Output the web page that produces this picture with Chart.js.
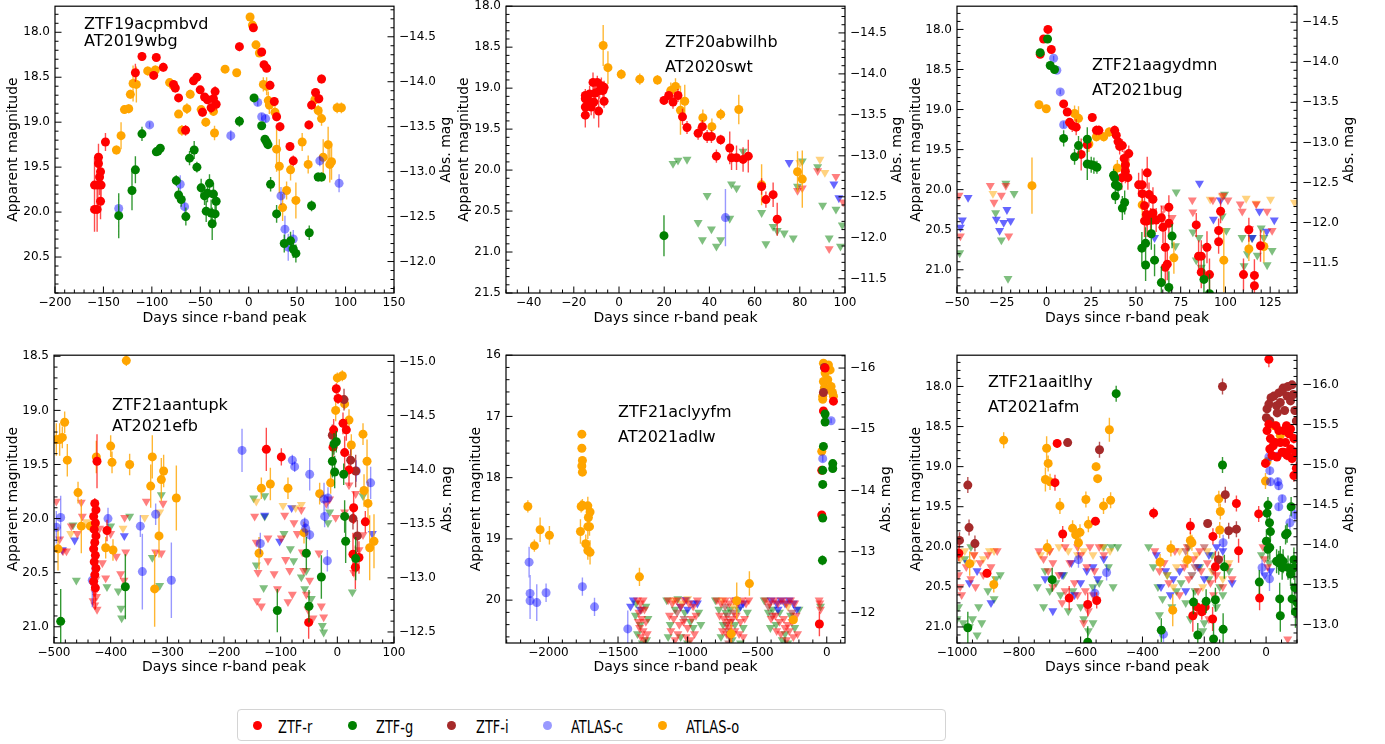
<!DOCTYPE html>
<html>
<head>
<meta charset="utf-8">
<script src="https://cdn.jsdelivr.net/npm/chart.js@4.4.0/dist/chart.umd.min.js"></script>
<style>
body{margin:0;background:#fff;width:1385px;height:744px;position:relative;overflow:hidden;font-family:"DejaVu Sans",sans-serif}
canvas{position:absolute}
#legend{position:absolute;left:237px;top:709px;width:709px;height:32px;border:1px solid #d4d4d4;border-radius:4px;box-sizing:border-box}
.dot{position:absolute;width:9px;height:9px;border-radius:50%;top:11px}
.lab{position:absolute;top:6px;font-size:18px;line-height:22px;transform:scaleX(0.72);transform-origin:left center;white-space:nowrap}
</style>
</head>
<body>
<canvas id="c1"></canvas><canvas id="c2"></canvas><canvas id="c3"></canvas>
<canvas id="c4"></canvas><canvas id="c5"></canvas><canvas id="c6"></canvas>
<div id="legend"></div>
<script>
// legend entries
const bandNames = ['ZTF-r', 'ZTF-g', 'ZTF-i', 'ATLAS-c', 'ATLAS-o'];

// ---- panel 1 : ZTF19acpmbvd (detections: [day, mag, err])
const p1_r = [[-159.2,19.97,0.25],[-156.5,19.97,0.25],[-159.2,19.70,0.3],[-155.8,19.70,0.3],[-155.1,19.39,0.15],[-155.1,19.46,0.2],[-154.0,19.61,0.2],[-153.0,19.55,0.15],[-153.0,19.88,0.2],[-152.4,19.70,0.15],[-147.9,19.22,0.1],[-117.0,18.45,0.1],[-110.2,18.27,0.05],[-98.1,18.48,0.04],[-95.4,18.28,0.04],[-88.2,18.39,0.05],[-77.6,18.58,0.04],[-75.8,18.62,0.05],[-72.4,18.73,0.04],[-65.2,19.09,0.06],[-57.0,18.54,0.04],[-53.6,18.50,0.04],[-50.1,18.64,0.04],[-47.7,18.89,0.05],[-45.6,18.72,0.04],[-42.6,18.75,0.04],[-38.8,18.84,0.06],[-36.4,18.74,0.06],[-34.7,18.66,0.06],[-33.6,18.80,0.07],[-9.6,18.16,0.05],[4.8,17.95,0.04],[13.4,18.22,0.04],[15.8,18.36,0.04],[18.5,18.40,0.04],[22.0,18.59,0.05],[26.4,18.77,0.05],[28.8,18.94,0.05],[32.3,19.05,0.05],[42.6,19.27,0.05],[46.0,19.43,0.06],[62.1,19.03,0.05],[64.9,18.81,0.05],[69.0,18.67,0.04],[72.4,18.74,0.05],[75.2,18.52,0.05]];
const p1_g = [[-134.2,20.04,0.25],[-120.5,19.76,0.22],[-117.0,19.53,0.15],[-110.2,19.13,0.08],[-95.4,19.33,0.04],[-93.7,19.32,0.04],[-91.3,19.29,0.04],[-74.8,19.65,0.06],[-72.4,19.81,0.08],[-69.7,19.86,0.08],[-64.9,20.05,0.1],[-61.1,19.40,0.08],[-56.3,19.31,0.1],[-53.5,19.50,0.06],[-49.1,19.73,0.1],[-45.6,19.82,0.1],[-43.9,19.99,0.12],[-42.6,19.79,0.1],[-40.5,19.68,0.1],[-38.8,20.01,0.15],[-37.7,20.13,0.18],[-36.4,19.80,0.12],[-34.7,20.02,0.1],[-33.6,19.88,0.1],[-9.6,18.99,0.06],[5.5,18.73,0.03],[13.4,19.04,0.04],[16.8,19.19,0.04],[18.5,19.22,0.04],[19.9,19.25,0.04],[22.6,19.69,0.08],[28.8,20.02,0.1],[36.7,20.35,0.1],[43.2,20.32,0.1],[46.0,20.41,0.1],[48.7,20.46,0.1],[62.5,20.23,0.08],[64.9,19.93,0.06],[71.7,19.61,0.05],[75.2,19.61,0.05]];
const p1_c = [[-134.2,19.96,0.03],[-102.3,19.03,0.03],[-70.7,19.69,0.1],[-66.2,19.94,0.1],[-18.5,19.15,0.06],[9.3,18.78,0.04],[13.4,18.94,0.04],[17.5,18.96,0.04],[33.3,19.82,0.1],[37.4,20.19,0.15],[40.8,20.39,0.15],[46.0,20.30,0.1],[73.4,19.43,0.06],[93.3,19.68,0.1]];
const p1_o = [[-136.6,19.31,0.05],[-131.8,19.15,0.15],[-128.3,18.86,0.05],[-123.9,18.85,0.05],[-122.2,18.69,0.05],[-119.4,18.57,0.2],[-116.0,18.58,0.2],[-104.3,18.43,0.05],[-96.4,18.42,0.05],[-81.7,18.56,0.04],[-78.2,18.59,0.04],[-72.4,18.91,0.04],[-69.0,19.09,0.06],[-63.8,18.85,0.06],[-60.4,18.69,0.05],[-49.1,18.86,0.04],[-44.3,19.00,0.05],[-36.4,18.88,0.05],[-35.3,19.12,0.08],[-24.4,18.41,0.03],[-12.4,18.45,0.04],[1.4,17.83,0.03],[3.8,17.92,0.03],[7.5,18.14,0.03],[11.0,18.23,0.03],[15.1,18.58,0.08],[18.5,18.60,0.1],[20.2,18.76,0.1],[21.3,18.81,0.1],[27.1,18.89,0.08],[28.8,19.30,0.25],[31.6,19.49,0.3],[35.0,19.95,0.15],[39.1,19.76,0.1],[43.2,19.53,0.12],[48.7,19.87,0.2],[55.2,19.22,0.1],[61.4,19.47,0.1],[68.3,18.75,0.05],[71.7,18.87,0.06],[75.2,18.96,0.08],[76.9,19.39,0.2],[82.0,19.25,0.2],[83.7,19.47,0.2],[85.5,19.44,0.2],[91.3,18.84,0.06],[95.7,18.84,0.06]];

// ---- panel 2 : ZTF20abwilhb (limits: [day, mag])
const p2_r = [[-14.9,19.33,0.15],[-14.9,19.23,0.1],[-14.9,19.13,0.08],[-14.9,19.09,0.08],[-13.7,19.15,0.1],[-13.0,19.07,0.1],[-12.3,19.23,0.1],[-11.5,18.93,0.12],[-11.1,19.17,0.2],[-10.5,19.06,0.1],[-9.6,18.93,0.08],[-9.0,19.28,0.2],[-8.6,19.03,0.1],[-7.8,18.97,0.1],[-7.1,19.03,0.08],[-6.6,19.16,0.08],[-6.6,18.99,0.08],[19.9,19.15,0.05],[22.0,19.09,0.05],[23.9,19.17,0.08],[26.1,19.09,0.08],[28.1,19.35,0.1],[30.1,19.48,0.08],[35.0,19.55,0.08],[36.9,19.47,0.08],[39.0,19.59,0.08],[40.9,19.59,0.08],[43.1,19.83,0.08],[45.0,19.63,0.06],[49.0,19.73,0.2],[49.8,19.85,0.15],[52.0,19.85,0.15],[54.9,19.87,0.15],[57.2,19.83,0.2],[63.1,20.20,0.1],[65.0,20.36,0.1],[68.2,20.30,0.15],[70.0,20.60,0.2]];
const p2_g = [[19.9,20.80,0.25]];
const p2_c = [[47.1,20.58,0.35]];
const p2_o = [[-7.0,18.48,0.25],[-4.9,18.75,0.2],[1.0,18.83,0.06],[9.2,18.89,0.07],[17.0,18.90,0.06],[22.9,19.03,0.1],[25.0,18.98,0.1],[27.2,19.27,0.3],[29.1,19.16,0.2],[37.1,19.36,0.1],[41.1,19.47,0.1],[45.0,19.32,0.07],[53.0,19.26,0.18],[63.1,20.18,0.25],[79.0,20.02,0.25],[81.1,20.11,0.35]];
const p2_gLim = [[23.9,19.92],[26.1,19.88],[30.1,19.87],[35.0,20.64],[36.9,20.85],[39.0,20.31],[40.9,20.72],[43.1,20.93],[45.0,20.85],[49.0,20.59],[49.8,20.17],[52.0,20.22],[54.9,19.77],[63.1,20.52],[65.0,20.90],[68.2,20.69],[70.0,20.74],[73.1,20.77],[77.1,20.83],[79.0,20.20],[81.1,19.89],[87.9,19.96],[90.1,20.43],[93.0,20.83],[96.0,20.48],[98.0,20.93],[98.8,20.67]];
const p2_rLim = [[79.0,20.25],[81.1,20.22],[87.9,20.01],[93.0,20.96],[96.0,20.08],[99.2,20.39]];
const p2_cLim = [[75.3,19.91],[95.1,20.17],[97.3,20.34]];
const p2_oLim = [[88.9,19.87],[91.1,20.03],[80.0,19.91]];

// ---- panel 3 : ZTF21aagydmn
const p3_r = [[-3.5,18.31,0.03],[-1.6,18.12,0.03],[0.8,18.00,0.03],[2.7,18.25,0.03],[9.6,18.93,0.04],[11.6,19.03,0.04],[12.9,19.16,0.05],[14.4,19.20,0.08],[16.6,19.22,0.1],[19.4,19.56,0.2],[22.8,19.44,0.1],[25.6,19.10,0.05],[27.9,19.26,0.06],[29.3,19.26,0.06],[38.1,19.26,0.06],[39.0,19.32,0.08],[40.0,19.40,0.08],[40.9,19.46,0.1],[42.4,19.45,0.08],[43.4,19.61,0.1],[44.1,19.69,0.12],[46.0,19.55,0.1],[42.1,19.85,0.15],[44.1,19.77,0.15],[45.5,19.85,0.15],[51.5,19.94,0.15],[53.5,19.94,0.2],[53.5,20.05,0.2],[56.3,19.79,0.2],[54.8,20.20,0.2],[55.8,20.31,0.15],[57.3,20.06,0.15],[56.3,20.39,0.2],[59.5,20.12,0.15],[59.5,20.29,0.15],[54.8,20.39,0.2],[58.2,20.38,0.15],[61.3,20.38,0.15],[64.2,20.35,0.15],[65.1,20.47,0.2],[68.4,20.42,0.2],[68.4,20.22,0.15],[66.4,20.72,0.2],[66.4,20.97,0.2],[67.5,20.93,0.2],[83.7,20.44,0.15],[85.0,20.83,0.2],[86.5,20.83,0.2],[86.5,21.03,0.2],[89.7,20.72,0.2],[91.1,21.06,0.2],[96.2,20.51,0.15],[96.2,20.65,0.15],[97.3,20.27,0.15],[110.1,21.06,0.2],[113.1,20.50,0.15],[116.2,21.07,0.2],[116.2,21.20,0.2],[119.6,20.70,0.2]];
const p3_g = [[-3.5,18.29,0.03],[0.6,18.12,0.03],[2.1,18.45,0.03],[4.5,18.50,0.03],[9.6,19.36,0.1],[15.7,19.59,0.1],[17.9,19.45,0.12],[22.8,19.37,0.15],[22.8,19.68,0.2],[25.0,19.69,0.1],[26.5,19.70,0.1],[28.2,19.72,0.08],[37.5,19.82,0.08],[38.1,19.85,0.08],[38.5,19.94,0.1],[40.0,19.96,0.12],[38.5,20.08,0.1],[42.4,20.23,0.15],[43.7,20.16,0.15],[53.3,20.73,0.2],[55.4,20.67,0.2],[55.4,20.94,0.2],[58.6,20.55,0.2],[60.4,20.88,0.2],[64.2,21.16,0.2],[68.4,21.22,0.2],[70.2,20.58,0.15],[88.0,21.12,0.25],[91.1,21.30,0.25]];
const p3_c = [[4.0,18.36,0.03],[5.8,18.51,0.03],[7.7,18.78,0.03],[9.6,19.19,0.04]];
const p3_o = [[-8.1,19.95,0.35],[-4.2,18.94,0.05],[-0.1,18.99,0.05],[15.7,19.05,0.1],[17.9,19.11,0.15],[23.7,19.43,0.1],[27.9,19.34,0.06],[32.0,19.34,0.06],[35.0,19.28,0.06],[39.6,19.73,0.1],[44.1,19.68,0.1],[53.5,20.19,0.15],[71.2,20.85,0.2],[99.1,20.88,0.4],[113.1,20.74,0.15],[121.5,20.71,0.2]];
const p3_rLim = [[-48.9,20.07],[-48.1,20.58],[-31.4,19.95],[-29.3,20.16],[-25.2,20.07],[-22.7,19.95],[-21.1,20.58],[81.5,20.13],[81.8,20.28],[93.0,20.13],[98.6,20.07],[101.4,20.13],[108.3,20.18],[109.4,20.27],[113.5,20.49],[123.3,20.27],[126.1,20.51],[117.2,20.18],[66.0,20.23],[70.2,20.35]];
const p3_gLim = [[-48.5,20.79],[-28.4,20.29],[-25.2,20.63],[-22.7,19.92],[-18.1,20.05],[-21.5,21.11],[72.5,20.03],[72.1,20.70],[81.8,20.53],[85.2,20.60],[83.7,20.88],[86.5,20.97],[88.9,20.72],[98.2,20.33],[99.5,20.06],[100.5,20.51],[109.3,20.60],[110.4,20.95],[112.3,20.80],[114.8,20.60],[117.8,20.82],[120.0,20.48],[123.3,20.94],[126.1,20.76],[121.5,20.60]];
const p3_cLim = [[-48.1,20.47],[-43.8,20.10],[-47.0,20.38],[-28.0,20.37],[-26.2,20.51],[-23.9,20.41],[-22.1,20.25],[-20.0,20.39],[85.5,19.92],[93.3,20.37],[97.3,20.13],[115.0,20.60],[119.0,20.27],[123.1,20.52],[127.3,20.38],[60.4,20.60]];
const p3_oLim = [[-29.9,20.05],[91.5,20.12],[98.2,20.08],[111.6,20.11],[117.2,20.17],[125.2,20.12],[138.6,20.16]];

// ---- panel 4 : ZTF21aantupk
const p4_r = [[-424.1,19.47,0.25],[-406.5,20.11,0.1],[-125.3,19.36,0.2],[-98.8,19.43,0.08],[-1.8,18.80,0.05],[1.2,18.89,0.05],[-6.5,19.18,0.1],[-7.6,19.34,0.1],[10.0,19.12,0.1],[15.9,19.18,0.1],[12.9,19.39,0.15],[20.6,19.55,0.15],[28.8,19.90,0.15],[27.6,20.33,0.2],[31.8,20.45,0.2],[38.2,20.36,0.15],[49.4,20.03,0.1],[-50.6,20.96,0.15],[-428,19.86,0.05],[-426,19.92,0.08],[-430,19.98,0.08],[-427,20.04,0.1],[-429,20.10,0.1],[-426,20.16,0.1],[-428,20.22,0.12],[-430,20.28,0.12],[-427,20.34,0.15],[-429,20.40,0.15],[-426,20.46,0.15],[-428,20.52,0.2],[-430,20.58,0.2],[-427,20.64,0.2]];
const p4_g = [[-488.2,20.95,0.3],[-374.1,20.63,0.3],[-105.9,20.85,0.2],[-54.7,20.32,0.15],[-50.0,20.81,0.15],[-28.2,20.54,0.2],[-8.8,19.47,0.15],[-5.9,19.31,0.1],[-1.8,19.29,0.1],[-4.7,19.57,0.15],[11.2,19.59,0.1],[12.9,19.98,0.15],[14.7,20.21,0.2],[32.4,20.37,0.2]];
const p4_i = [[-8.8,19.23,0.1],[11.8,18.90,0.1],[23.5,19.46,0.1],[32.4,19.56,0.15],[27.6,20.00,0.1],[35.3,20.16,0.15]];
const p4_c = [[-495.9,20.08,0.15],[-488.2,19.99,0.2],[-432.4,20.57,0.25],[-404.7,20.00,0.1],[-347.6,20.07,0.1],[-344.1,20.49,0.35],[-320.6,19.96,0.1],[-292.9,20.57,0.35],[-168.2,19.37,0.2],[-135.9,20.23,0.1],[-79.4,19.46,0.05],[-75.3,19.52,0.05],[-48.8,19.59,0.15],[-57.6,20.04,0.05],[-55.9,20.09,0.05],[-48.8,20.15,0.05],[-23.5,19.82,0.15],[-16.5,19.81,0.1],[-22.4,19.98,0.1],[-17.6,20.39,0.1],[33.5,19.56,0.1],[58.8,19.67,0.15]];
const p4_o = [[-495.9,19.27,0.15],[-490.0,19.27,0.15],[-485.3,19.25,0.1],[-481.2,19.11,0.1],[-476.5,19.46,0.15],[-457.6,19.76,0.1],[-451.8,20.07,0.25],[-492.9,20.28,0.2],[-435.9,20.07,0.05],[-428.2,20.06,0.05],[-425.3,19.43,0.15],[-408.8,20.27,0.1],[-400.0,19.33,0.1],[-397.6,19.48,0.1],[-395.9,20.29,0.1],[-366.5,19.50,0.1],[-372.4,18.54,0.05],[-329.4,19.70,0.2],[-326.5,19.43,0.2],[-322.4,20.65,0.35],[-314.7,20.16,0.2],[-310.6,19.64,0.2],[-306.5,19.56,0.15],[-284.1,19.81,0.3],[-134.1,19.72,0.1],[-138.2,20.32,0.15],[-118.2,19.68,0.15],[-87.1,19.72,0.1],[-58.8,20.13,0.1],[-31.2,19.77,0.1],[-11.8,19.67,0.1],[-2.9,19.00,0.1],[0.0,18.70,0.05],[8.8,18.68,0.05],[12.9,18.94,0.05],[20.6,19.09,0.1],[24.7,19.32,0.1],[45.3,19.22,0.1],[47.1,19.74,0.15],[52.4,19.47,0.2],[54.1,19.86,0.2],[57.1,20.27,0.3],[64.7,20.21,0.25]];
const p4_rLim = [[-428,20.68],[-425,20.72],[-431,20.76],[-428,20.80],[-424,20.84],[-430,20.62],[-426,20.56],[-495.9,19.84],[-490,20.19],[-484.1,20.30],[-478,20.30],[-469.4,20.07],[-458.8,20.14],[-451.8,19.85],[-450,19.98],[-419.4,20.09],[-414.7,20.41],[-408.8,20.55],[-400,20.14],[-390,20.35],[-382.4,20.51],[-376.5,20.57],[-375.3,19.99],[-373.5,20.31],[-337.1,19.84],[-320.6,20.31],[-310.6,20.32],[-307.6,19.86],[-145.9,19.98],[-143,20.22],[-140,20.50],[-141.8,20.76],[-134.1,20.81],[-122.4,20.18],[-122.4,20.39],[-111.5,20.51],[-105.6,20.65],[-98.8,20.18],[-92.9,19.97],[-91.2,20.38],[-87.1,20.77],[-84.1,20.48],[-79.4,20.70],[-76.5,20.04],[-70.6,20.14],[-63.5,19.92],[-61.8,20.31],[-59.4,20.48],[-54.7,20.70],[-51.8,20.84],[-48.8,20.57],[-42.9,20.92],[-32.4,20.32],[-28.2,20.81],[-24.1,20.91],[-19.4,19.86],[-13.5,19.82],[-2.9,19.99],[12.9,19.94],[20.6,19.69],[32.4,19.77],[38.2,20.29],[45.3,20.15],[28.8,20.50]];
const p4_gLim = [[-466.5,20.06],[-460.6,20.57],[-406.5,20.63],[-400,20.07],[-386.5,20.67],[-381.8,20.83],[-380.6,20.92],[-366.5,19.98],[-326.5,20.36],[-313.5,20.62],[-310.6,19.78],[-147.6,19.81],[-143,20.43],[-128.2,19.79],[-130,20.64],[-128.2,19.98],[-94.1,20.14],[-82.9,20.28],[-77.1,20.39],[-63.5,20.54],[-57.6,20.65],[-54.7,20.48],[-45.9,20.74],[-26.5,20.99],[-24.1,21.05],[-13.5,19.94],[-16.5,20.04],[26.5,20.68],[45.3,19.79]];
const p4_cLim = [[-463.5,20.20],[-485.3,20.29],[-375.9,20.16],[-101.8,20.21],[-80.6,19.90],[-128.2,19.97],[61.8,20.14]];
const p4_oLim = [[-470.6,20.14],[-442.9,20.03],[-378.2,20.09],[-340,19.99],[-313.5,19.94],[-143,19.84],[-95.9,19.88],[-73.5,19.90],[-63.5,19.87]];

// ---- panel 5 : ZTF21aclyyfm
const p5_r = [[-12,16.21,0.03],[-24,16.91,0.04],[48,16.75,0.04],[-36,17.88,0.05],[-36,18.61,0.05],[-53,20.39,0.2]];
const p5_g = [[-12,16.96,0.03],[-12,17.09,0.03],[-24,17.49,0.04],[-29,17.88,0.04],[-29,18.11,0.05],[-29,18.66,0.05],[-31,19.35,0.08],[43,17.77,0.04],[43,17.85,0.04]];
const p5_i = [[-17,16.20,0.03],[-24,16.61,0.04]];
const p5_c = [[-2139,19.38,0.25],[-2132,19.89,0.3],[-2132,20.01,0.3],[-2084,20.04,0.3],[-2017,19.88,0.15],[-1756,19.78,0.15],[-1669,20.11,0.15],[-1430,20.47,0.3],[31,17.07,0.04],[-29,17.69,0.05]];
const p5_o = [[-2148,18.47,0.1],[-2101,19.11,0.1],[-2060,18.85,0.2],[-1993,18.94,0.15],[-1760,17.29,0.05],[-1760,17.52,0.05],[-1756,17.72,0.05],[-1760,17.81,0.05],[-1756,17.91,0.05],[-1765,18.47,0.1],[-1756,18.45,0.1],[-1770,18.88,0.2],[-1732,19.08,0.15],[-1717,18.46,0.15],[-1717,18.80,0.2],[-1713,18.65,0.2],[-1701,18.56,0.15],[-1717,19.19,0.15],[-1701,19.22,0.2],[-1705,18.80,0.15],[-1346,19.62,0.15],[-647,20.01,0.3],[-556,19.73,0.2],[-687,20.55,0.2],[-240,20.32,0.05],[-24,16.13,0.03],[-12,16.29,0.03],[-24,16.43,0.03],[-17,16.53,0.03],[-29,16.72,0.03],[-29,16.67,0.03],[0,16.21,0.03],[12,16.16,0.03],[24,16.24,0.03],[31,16.51,0.03],[41,16.61,0.03],[48,16.67,0.03],[7,16.40,0.03],[-7,16.56,0.03],[-36,17.57,0.05]];
const p5_rLim = [[-1360,20.0],[-1340,20.05],[-1320,20.0],[-1350,20.2],[-1330,20.3],[-1310,20.15],[-1345,20.45],[-1320,20.5],[-1300,20.35],[-1335,20.6],[-1310,20.65],[-1290,20.55],[-1355,20.35],[-1140,20.0],[-1110,20.05],[-1080,20.0],[-1050,20.1],[-1020,20.0],[-990,20.05],[-960,20.1],[-930,20.0],[-1130,20.25],[-1100,20.3],[-1060,20.4],[-1030,20.35],[-1000,20.45],[-970,20.3],[-940,20.25],[-1120,20.5],[-1070,20.55],[-1010,20.6],[-950,20.55],[-980,20.65],[-1090,20.65],[-790,20.0],[-760,20.05],[-730,20.0],[-700,20.05],[-670,20.0],[-640,20.05],[-610,20.0],[-580,20.05],[-560,20.0],[-770,20.25],[-740,20.3],[-710,20.35],[-680,20.3],[-650,20.25],[-620,20.35],[-590,20.3],[-750,20.5],[-720,20.55],[-690,20.6],[-660,20.5],[-630,20.55],[-600,20.6],[-700,20.45],[-440,20.0],[-410,20.05],[-380,20.0],[-350,20.05],[-320,20.0],[-290,20.05],[-260,20.0],[-230,20.05],[-400,20.3],[-370,20.25],[-340,20.35],[-310,20.3],[-280,20.4],[-250,20.35],[-220,20.25],[-360,20.5],[-330,20.55],[-300,20.45],[-270,20.5],[-240,20.6],[-210,20.55],[-290,20.65],[-55,20.0],[-50,20.05],[-45,20.15]];
const p5_gLim = [[-1370,20.05],[-1300,20.1],[-1340,20.4],[-1285,20.3],[-1325,20.7],[-1360,20.55],[-1295,20.65],[-1375,20.25],[-1150,20.0],[-1070,19.98],[-1020,20.2],[-1125,20.4],[-1090,20.15],[-980,20.35],[-920,20.2],[-1050,20.6],[-960,20.45],[-1140,20.6],[-1000,20.7],[-905,20.4],[-800,20.0],[-775,20.15],[-745,20.4],[-725,20.2],[-695,20.15],[-660,20.4],[-635,20.15],[-600,20.45],[-570,20.2],[-760,20.6],[-680,20.65],[-620,20.7],[-450,20.0],[-420,20.2],[-390,20.15],[-365,20.4],[-340,20.2],[-300,20.55],[-260,20.25],[-230,20.45],[-200,20.15],[-280,20.7],[-320,20.65],[-405,20.45],[-45,20.1]];
const p5_iLim = [[-1330,20.15],[-1075,20.2],[-1025,20.3],[-720,20.4],[-710,20.5],[-690,20.35],[-700,20.6],[-730,20.1],[-670,20.2],[-715,20.25],[-685,20.55],[-705,20.7],[-420,20.1],[-390,20.25],[-250,20.2]];
const p5_cLim = [[-1390,20.0],[-1340,20.15],[-1410,20.1],[-1050,20.1],[-1000,20.15],[-960,20.05],[-1010,19.99],[-930,20.05],[-650,20.0],[-620,20.1],[-600,20.05],[-400,20.0],[-360,20.05],[-330,20.0],[-300,20.05],[-270,20.0],[-240,20.05],[-215,20.15],[-350,20.15]];
const p5_oLim = [[-1100,20.0],[-1000,19.98],[-1040,20.05],[-750,20.0],[-670,20.1],[-280,20.1]];

// ---- panel 6 : ZTF21aaitlhy
const p6_r = [[-994,20.08,0.1],[-903,20.33,0.05],[-683,19.20,0.1],[-676,18.71,0.05],[-658,19.84,0.1],[-637,20.64,0.15],[-577,20.72,0.15],[-548,20.67,0.1],[-552,19.68,0.05],[-364,19.58,0.07],[-245,19.74,0.1],[-237,20.86,0.2],[-224,20.75,0.1],[-208,20.81,0.1],[-197,20.75,0.1],[-173,20.90,0.15],[-172,19.87,0.1],[-164,20.25,0.2],[-96,19.46,0.1],[-89,20.05,0.15],[-24,19.59,0.1],[-21,20.64,0.15],[9,17.66,0.1],[3,18.55,0.05],[9,18.47,0.05],[14,18.65,0.05],[23,18.74,0.05],[12,18.78,0.05],[30,18.70,0.05],[41,18.55,0.05],[46,18.70,0.05],[52,18.82,0.05],[57,18.55,0.05],[63,18.70,0.05],[68,18.86,0.06],[74,18.59,0.05],[79,18.78,0.06],[84,18.90,0.06],[90,18.65,0.06],[95,18.82,0.06],[98,19.02,0.08],[19,18.86,0.05],[32,18.49,0.05],[66,18.49,0.05],[79,18.53,0.05],[90,19.11,0.08],[-2,18.96,0.05],[35,18.88,0.05],[57,18.82,0.05]];
const p6_g = [[-965,21.01,0.2],[-692,20.41,0.15],[-577,21.19,0.2],[-485,18.09,0.1],[-339,21.04,0.15],[-235,20.69,0.15],[-221,21.10,0.15],[-194,20.68,0.15],[-170,21.15,0.2],[-164,20.66,0.15],[-141,18.98,0.1],[-135,20.25,0.15],[-139,21.03,0.2],[-22,20.44,0.15],[6,19.48,0.1],[3,19.58,0.1],[11,19.70,0.12],[14,19.81,0.12],[1,19.93,0.15],[6,20.03,0.15],[12,20.01,0.15],[34,20.18,0.15],[41,20.20,0.15],[46,20.14,0.15],[55,20.18,0.15],[44,20.65,0.2],[46,20.86,0.2],[52,20.26,0.15],[63,19.85,0.12],[68,19.83,0.12],[71,20.26,0.15],[79,20.34,0.15],[84,20.65,0.2],[81,19.50,0.12],[90,20.26,0.15],[93,20.51,0.2],[95,20.81,0.2],[90,20.16,0.15],[101,20.70,0.2]];
const p6_i = [[-992,19.92,0.1],[-965,19.23,0.1],[-961,19.76,0.1],[-942,19.96,0.1],[-642,18.70,0.05],[-539,18.79,0.1],[-189,19.71,0.05],[-141,18.00,0.1],[-132,19.35,0.1],[-121,19.80,0.1],[-154,20.16,0.1],[-96,19.78,0.1],[3,18.28,0.04],[9,18.22,0.04],[16,18.14,0.04],[25,18.12,0.04],[34,18.24,0.04],[36,18.33,0.04],[41,18.08,0.04],[52,18.06,0.04],[55,18.02,0.04],[60,18.30,0.04],[68,18.12,0.04],[79,18.18,0.04],[88,18.10,0.04],[93,18.30,0.05],[98,18.43,0.05],[12,18.43,0.04],[1,18.39,0.04],[46,18.20,0.04],[71,18.00,0.04],[84,17.98,0.04]];
const p6_c = [[-607,20.16,0.1],[-516,20.32,0.1],[-554,20.58,0.1],[12,19.05,0.05],[14,19.19,0.05],[38,19.19,0.05],[41,19.24,0.05],[52,19.40,0.05],[41,19.50,0.05],[77,19.70,0.1],[93,19.60,0.1],[9,18.88,0.05],[11,20.40,0.15],[-13,20.26,0.1],[-139,19.95,0.1],[-332,21.09,0.1],[36,18.87,0.05]];
const p6_o = [[-959,20.21,0.15],[-881,20.47,0.1],[-849,18.67,0.1],[-714,19.16,0.15],[-710,18.77,0.15],[-705,18.96,0.1],[-699,19.19,0.1],[-708,20.01,0.1],[-667,19.49,0.1],[-626,19.77,0.1],[-616,19.85,0.1],[-602,19.82,0.1],[-607,19.95,0.1],[-583,19.41,0.1],[-575,19.72,0.1],[-550,19.00,0.05],[-545,19.15,0.05],[-526,19.49,0.1],[-507,18.54,0.15],[-503,19.42,0.1],[-343,20.19,0.1],[-308,20.02,0.1],[-302,20.79,0.2],[-254,20.16,0.1],[-245,19.92,0.1],[-240,19.95,0.1],[-153,19.40,0.1],[-148,19.56,0.1],[-150,19.79,0.1],[-2,19.18,0.1],[27,18.49,0.05],[46,18.61,0.05],[3,18.94,0.05]];
const p6_rLim = [[-995,20.35],[-990,20.5],[-985,20.6],[-970,20.25],[-955,20.4],[-940,20.5],[-925,20.2],[-915,20.35],[-900,20.1],[-890,20.25],[-870,20.05],[-945,20.1],[-735,20.05],[-720,20.15],[-705,20.3],[-690,20.2],[-670,20.35],[-650,20.0],[-635,20.2],[-620,20.45],[-600,20.1],[-585,20.55],[-570,20.0],[-555,20.3],[-540,20.0],[-525,20.1],[-690,20.5],[-650,20.55],[-610,20.6],[-575,20.8],[-590,20.95],[-660,20.7],[-700,20.05],[-610,20.0],[-580,20.25],[-560,20.6],[-360,20.05],[-345,20.3],[-330,20.2],[-315,20.45],[-295,20.05],[-280,20.6],[-265,20.25],[-250,20.4],[-235,20.15],[-220,20.55],[-210,20.3],[-200,20.75],[-190,20.2],[-180,20.45],[-170,20.6],[-160,20.35],[-150,20.15],[-140,20.5],[-125,20.25],[-110,20.4],[-255,20.0],[-215,20.05],[-185,20.9],[-230,20.85],[-10,20.0],[-5,20.15],[5,20.25],[70,21.15]];
const p6_gLim = [[-995,20.75],[-980,20.95],[-960,21.0],[-950,20.9],[-935,21.1],[-920,20.95],[-930,20.75],[-900,20.55],[-880,20.65],[-875,20.4],[-860,20.35],[-955,20.0],[-975,20.15],[-1000,20.9],[-740,20.5],[-720,20.75],[-700,20.55],[-680,20.45],[-665,20.6],[-640,20.8],[-625,20.55],[-600,20.75],[-590,20.9],[-575,21.05],[-560,20.5],[-540,20.45],[-525,20.0],[-510,20.25],[-495,20.5],[-480,20.0],[-715,20.3],[-655,20.35],[-560,20.95],[-500,20.0],[-380,20.0],[-365,20.25],[-350,20.5],[-335,20.65],[-320,20.35],[-305,20.75],[-290,20.55],[-275,20.45],[-260,20.7],[-245,20.9],[-230,20.55],[-215,20.25],[-200,20.95],[-185,20.4],[-175,20.1],[-160,20.75],[-150,20.5],[-140,20.6],[-120,20.3],[-250,20.0],[-205,21.05],[-345,20.85],[-15,20.1],[10,20.2]];
const p6_iLim = [[-260,20.05],[-200,20.0],[-230,20.25],[-170,20.3]];
const p6_cLim = [[-965,20.2],[-960,20.45],[-935,20.3],[-890,20.7],[-715,20.4],[-690,20.8],[-660,20.35],[-630,20.2],[-600,20.45],[-580,20.3],[-560,20.25],[-545,20.4],[-620,20.6],[-525,20.15],[-355,20.1],[-340,20.5],[-325,20.3],[-310,20.6],[-280,20.3],[-260,20.55],[-240,20.35],[-220,20.25],[-200,20.4],[-185,20.1],[-160,20.0],[-140,20.05],[-110,20.45],[-300,20.4],[-5,20.35],[15,20.3]];
const p6_oLim = [[-990,20.15],[-975,20.05],[-945,20.1],[-915,20.15],[-895,20.05],[-880,20.05],[-950,20.2],[-730,20.1],[-700,20.05],[-670,20.0],[-640,20.05],[-610,20.1],[-590,20.05],[-560,20.1],[-530,20.0],[-505,20.05],[-340,20.2],[-320,20.35],[-300,20.5],[-280,20.05],[-260,20.2],[-240,20.35],[-225,20.1],[-205,20.5],[-190,20.05],[-175,20.3],[-160,20.15],[-140,20.4],[-120,20.2],[-290,20.25]];

// band colours
const bandRGB = {r:'255,0,0', g:'0,128,0', i:'165,42,42', c:'0,0,255', o:'255,165,0'};
const detAlpha = {r:1, g:1, i:1, c:0.45, o:1};
const errAlpha = {r:0.7, g:0.8, i:0.8, c:0.4, o:0.8};
const limAlpha = {r:0.5, g:0.5, i:0.55, c:0.6, o:0.5};

const panels = [
  {id:'c1', box:[0,-6,460,341], top:9, yw:55, y2w:66, xh:42,
   x:[-200,150,50,10], y:[17.71,20.90,0.5,0.1], off:32.55, y2:[0.5,0.1], dec:1,
   name:['ZTF19acpmbvd','AT2019wbg'], nameAt:[29,23,40], absDx:52,
   det:{r:p1_r, g:p1_g, c:p1_c, o:p1_o}, lim:{}},
  {id:'c2', box:[451,-6,454,341], top:9, yw:55, y2w:60, xh:42,
   x:[-50,100,20,5], y:[18.0,21.5,0.5,0.1], off:32.826, y2:[0.5,0.1], dec:1,
   name:['ZTF20abwilhb','AT2020swt'], nameAt:[159,41,66], absDx:52.5,
   det:{r:p2_r, g:p2_g, c:p2_c, o:p2_o}, lim:{r:p2_rLim, g:p2_gLim, c:p2_cLim, o:p2_oLim}},
  {id:'c3', box:[903,-6,482,341], top:9, yw:54, y2w:88, xh:42,
   x:[-50,140,25,5], y:[17.71,21.29,0.5,0.1], off:32.41, y2:[0.5,0.1], dec:1,
   name:['ZTF21aagydmn','AT2021bug'], nameAt:[135,64,89], absDx:52,
   det:{r:p3_r, g:p3_g, c:p3_c, o:p3_o}, lim:{r:p3_rLim, g:p3_gLim, c:p3_cLim, o:p3_oLim}},
  {id:'c4', box:[0,343,460,341], top:9, yw:54, y2w:66, xh:41,
   x:[-500,100,100,20], y:[18.49,21.15,0.5,0.1], off:33.548, y2:[0.5,0.1], dec:1,
   name:['ZTF21aantupk','AT2021efb'], nameAt:[58,55,76], absDx:53.5,
   det:{r:p4_r, g:p4_g, i:p4_i, c:p4_c, o:p4_o}, lim:{r:p4_rLim, g:p4_gLim, c:p4_cLim, o:p4_oLim}},
  {id:'c5', box:[463,343,442,341], top:9, yw:43, y2w:60, xh:41,
   x:[-2305,131,500,100], y:[16.0,20.70,1,0.2], off:32.21, y2:[1,0.2], dec:0,
   name:['ZTF21aclyyfm','AT2021adlw'], nameAt:[112,62,87], absDx:41,
   det:{r:p5_r, g:p5_g, i:p5_i, c:p5_c, o:p5_o}, lim:{r:p5_rLim, g:p5_gLim, i:p5_iLim, c:p5_cLim, o:p5_oLim}},
  {id:'c6', box:[903,343,482,341], top:9, yw:54, y2w:88, xh:41,
   x:[-1000,100,200,50], y:[17.61,21.20,0.5,0.1], off:33.975, y2:[0.5,0.1], dec:1,
   name:['ZTF21aaitlhy','AT2021afm'], nameAt:[31,32,57], absDx:52,
   det:{r:p6_r, g:p6_g, i:p6_i, c:p6_c, o:p6_o}, lim:{r:p6_rLim, g:p6_gLim, i:p6_iLim, c:p6_cLim, o:p6_oLim}}
];

const fmt = (v, d) => (d ? v.toFixed(d) : String(Math.round(v))).replace('-', '\u2212');

// ticks at whole multiples of the step inside the scale range
function stepTicks(scale, step) {
  const lo = Math.min(scale.min, scale.max), hi = Math.max(scale.min, scale.max);
  const out = [];
  for (let k = Math.ceil(lo / step - 1e-9); k * step <= hi + 1e-9; k++) out.push({value: +(k * step).toFixed(6)});
  return out;
}

function drawMinor(ctx, scale, step, major, horiz, edge, len) {
  const lo = Math.min(scale.min, scale.max), hi = Math.max(scale.min, scale.max);
  for (let k = Math.ceil(lo / step - 1e-9); k * step <= hi + 1e-9; k++) {
    const v = k * step;
    const r = v / major;
    if (Math.abs(r - Math.round(r)) < 1e-6) continue;
    const p = scale.getPixelForValue(v);
    ctx.beginPath();
    if (horiz) { ctx.moveTo(p, edge); ctx.lineTo(p, edge - len); }
    else { ctx.moveTo(edge, p); ctx.lineTo(edge + len, p); }
    ctx.stroke();
  }
}

const lcPlugin = {
  id: 'lc',
  beforeDatasetDraw(chart, args) {
    const ds = chart.data.datasets[args.index];
    if (!ds.errColor) return;
    const {ctx, chartArea: a} = chart;
    const x = chart.scales.x, y = chart.scales.y;
    ctx.save();
    ctx.beginPath();
    ctx.rect(a.left, a.top, a.right - a.left, a.bottom - a.top);
    ctx.clip();
    ctx.strokeStyle = ds.errColor;
    ctx.lineWidth = 1.4;
    ctx.beginPath();
    ds.data.forEach(p => {
      const px = x.getPixelForValue(p.x);
      ctx.moveTo(px, y.getPixelForValue(p.y - p.e));
      ctx.lineTo(px, y.getPixelForValue(p.y + p.e));
    });
    ctx.stroke();
    ctx.restore();
  },
  afterDraw(chart) {
    const P = chart.options.plugins.lc;
    const {ctx, chartArea: a} = chart;
    const sx = chart.scales.x, sy = chart.scales.y, s2 = chart.scales.y2;
    ctx.save();
    ctx.strokeStyle = '#000';
    ctx.lineWidth = 1.2;
    ctx.strokeRect(a.left, a.top, a.right - a.left, a.bottom - a.top);
    ctx.lineWidth = 1;
    // major ticks (inward)
    sx.ticks.forEach(t => {
      const p = sx.getPixelForValue(t.value);
      ctx.beginPath(); ctx.moveTo(p, a.bottom); ctx.lineTo(p, a.bottom - 6.5); ctx.stroke();
    });
    sy.ticks.forEach(t => {
      const p = sy.getPixelForValue(t.value);
      ctx.beginPath(); ctx.moveTo(a.left, p); ctx.lineTo(a.left + 6.5, p); ctx.stroke();
    });
    s2.ticks.forEach(t => {
      const p = s2.getPixelForValue(t.value);
      ctx.beginPath(); ctx.moveTo(a.right, p); ctx.lineTo(a.right - 6.5, p); ctx.stroke();
    });
    // minor ticks
    drawMinor(ctx, sx, P.x[3], P.x[2], true, a.bottom, 3.5);
    drawMinor(ctx, sy, P.y[3], P.y[2], false, a.left, 3.5);
    drawMinor(ctx, s2, P.y2[1], P.y2[0], false, a.right, -3.5);
    // object names
    ctx.fillStyle = '#000';
    ctx.font = '16px "DejaVu Sans"';
    ctx.textAlign = 'left';
    ctx.textBaseline = 'alphabetic';
    ctx.fillText(P.name[0], a.left + P.nameAt[0], a.top + P.nameAt[1]);
    ctx.fillText(P.name[1], a.left + P.nameAt[0], a.top + P.nameAt[2]);
    // right axis title
    ctx.font = '14px "DejaVu Sans"';
    ctx.translate(a.right + P.absDx, (a.top + a.bottom) / 2);
    ctx.rotate(-Math.PI / 2);
    ctx.textAlign = 'center';
    ctx.textBaseline = 'middle';
    ctx.fillText('Abs. mag', 0, 0);
    ctx.restore();
  }
};

Chart.defaults.font.family = '"DejaVu Sans", sans-serif';
Chart.defaults.color = '#000';

const limOrder = ['g', 'c', 'o', 'i', 'r'];
const detOrder = ['o', 'c', 'i', 'r', 'g'];

panels.forEach(P => {
  const cv = document.getElementById(P.id);
  cv.width = P.box[2]; cv.height = P.box[3];
  cv.style.left = P.box[0] + 'px'; cv.style.top = P.box[1] + 'px';
  cv.style.width = P.box[2] + 'px'; cv.style.height = P.box[3] + 'px';

  const sets = [];
  limOrder.forEach(b => {
    if (!P.lim[b]) return;
    sets.push({
      data: P.lim[b].map(p => ({x: p[0], y: p[1]})),
      pointStyle: 'triangle', rotation: 180, pointRadius: 5.2, borderWidth: 0,
      backgroundColor: `rgba(${bandRGB[b]},${limAlpha[b]})`
    });
  });
  detOrder.forEach(b => {
    if (!P.det[b]) return;
    sets.push({
      data: P.det[b].map(p => ({x: p[0], y: p[1], e: p[2]})),
      pointStyle: 'circle', pointRadius: 4.5, borderWidth: 0,
      backgroundColor: `rgba(${bandRGB[b]},${detAlpha[b]})`,
      errColor: `rgba(${bandRGB[b]},${errAlpha[b]})`
    });
  });
  sets.forEach((s, k) => { s.order = -k; s.clip = 0; s.pointHoverRadius = s.pointRadius; });

  const axisBase = {
    type: 'linear',
    grid: {display: false, drawTicks: false},
    border: {display: false}
  };
  new Chart(cv, {
    type: 'scatter',
    data: {datasets: sets},
    options: {
      responsive: false, animation: false, events: [],
      layout: {padding: {top: P.top, left: 0, right: 0, bottom: 0}},
      plugins: {legend: {display: false}, tooltip: {enabled: false}, lc: P},
      scales: {
        x: Object.assign({}, axisBase, {
          position: 'bottom', min: P.x[0], max: P.x[1],
          afterBuildTicks: s => { s.ticks = stepTicks(s, P.x[2]); },
          ticks: {autoSkip: false, maxRotation: 0, padding: 3, font: {size: 12}, callback: v => fmt(v, 0)},
          title: {display: true, text: 'Days since r-band peak', font: {size: 14}, padding: {top: 4, bottom: 8.6}},
          afterFit: s => { s.height = P.xh; }
        }),
        y: Object.assign({}, axisBase, {
          position: 'left', reverse: true, min: P.y[0], max: P.y[1],
          afterBuildTicks: s => { s.ticks = stepTicks(s, P.y[2]); },
          ticks: {autoSkip: false, padding: 5, font: {size: 12}, callback: v => fmt(v, P.dec)},
          title: {display: true, text: 'Apparent magnitude', font: {size: 14}, padding: {top: 4.5, bottom: 0}},
          afterFit: s => { s.width = P.yw; }
        }),
        y2: Object.assign({}, axisBase, {
          position: 'right', reverse: true, min: P.y[0] - P.off, max: P.y[1] - P.off,
          afterBuildTicks: s => { s.ticks = stepTicks(s, P.y2[0]); },
          ticks: {autoSkip: false, padding: 5, font: {size: 12}, callback: v => fmt(v, P.dec)},
          afterFit: s => { s.width = P.y2w; }
        })
      }
    },
    plugins: [lcPlugin]
  });
});

// legend
const legendColors = ['#ff0000', '#008000', '#a52a2a', '#9999ff', '#ffa500'];
const dotX = [15, 110, 209, 305, 420];
const labX = [40, 138, 238, 333, 448];
const lg = document.getElementById('legend');
bandNames.forEach((n, k) => {
  const d = document.createElement('div');
  d.className = 'dot';
  d.style.left = dotX[k] + 'px';
  d.style.background = legendColors[k];
  lg.appendChild(d);
  const t = document.createElement('div');
  t.className = 'lab';
  t.style.left = labX[k] + 'px';
  t.textContent = n;
  lg.appendChild(t);
});
</script>
</body>
</html>
